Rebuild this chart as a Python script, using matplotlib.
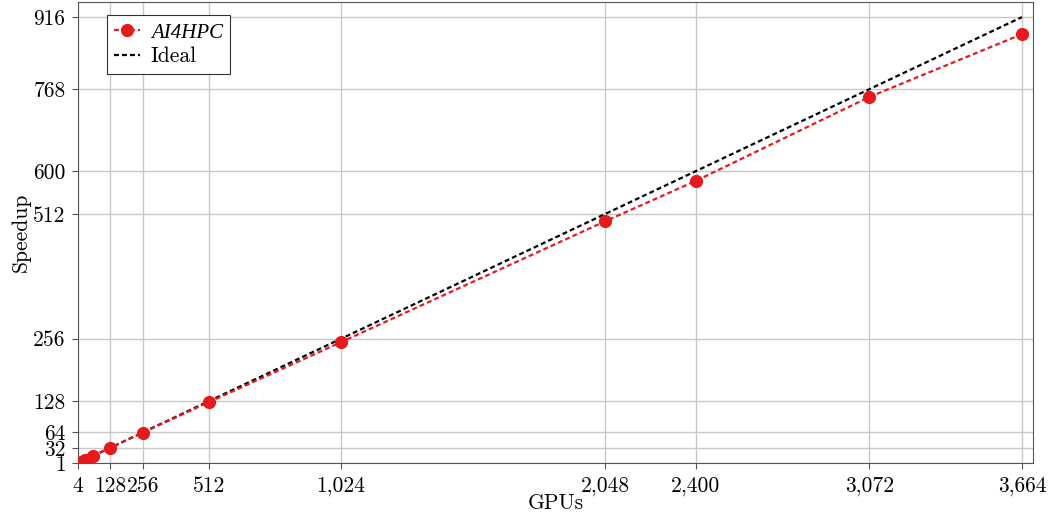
import matplotlib.pyplot as plt
import numpy as np

# Data
gpus = [4, 8, 16, 32, 64, 128, 256, 512, 1024, 2048, 2400, 3072, 3664]
speedup = [1, 2, 4, 8, 16, 32, 63.5, 126, 249, 497, 580, 752, 881]
ideal = [g / 4 for g in gpus]

xticks = [4, 128, 256, 512, 1024, 2048, 2400, 3072, 3664]
yticks = [1, 32, 64, 128, 256, 512, 600, 768, 916]

plt.rcParams['font.family'] = ['cmr10', 'DejaVu Serif']
plt.rcParams['axes.formatter.use_mathtext'] = True
plt.rcParams['font.size'] = 15.5

fig = plt.figure(figsize=(10.5, 5.16), dpi=100)
ax = fig.add_axes([78 / 1050, 1 - 463 / 516, (1033 - 78) / 1050, (463 - 2) / 516])

ax.plot(gpus, speedup, '--o', color='#e41a1c', lw=1.6, ms=8.5, dashes=(2.2, 1.4),
        label='AI4HPC', zorder=3)
ax.plot(gpus, ideal, '--', color='black', lw=1.6, dashes=(2.2, 1.4), label='Ideal', zorder=2)

ax.set_xlim(4, 3707)
ax.set_ylim(1, 947)
ax.set_xticks(xticks)
ax.set_xticklabels([f'{t:,}' for t in xticks])
ax.set_yticks(yticks)
ax.set_yticklabels([str(t) for t in yticks])
ax.grid(True, color='#c8c8c8', lw=1)
ax.set_axisbelow(True)
for s in ax.spines.values():
    s.set_color('#555555')
ax.tick_params(length=4, color='#555555')
ax.tick_params(axis='x', pad=6)
ax.tick_params(axis='y', pad=5)

ax.set_xlabel('GPUs', labelpad=-2)
ax.set_ylabel('Speedup', labelpad=2)

leg = ax.legend(loc='upper left', bbox_to_anchor=(0.030, 0.972), borderaxespad=0,
                fancybox=False, edgecolor='#333333', framealpha=1, handlelength=1.2,
                borderpad=0.35, labelspacing=0.2, handletextpad=0.5)
leg.get_frame().set_linewidth(0.8)
leg.get_texts()[0].set_fontfamily('Liberation Serif')
leg.get_texts()[0].set_fontstyle('italic')
leg.get_texts()[0].set_fontsize(15)

fig.savefig('out.png', dpi=100)
